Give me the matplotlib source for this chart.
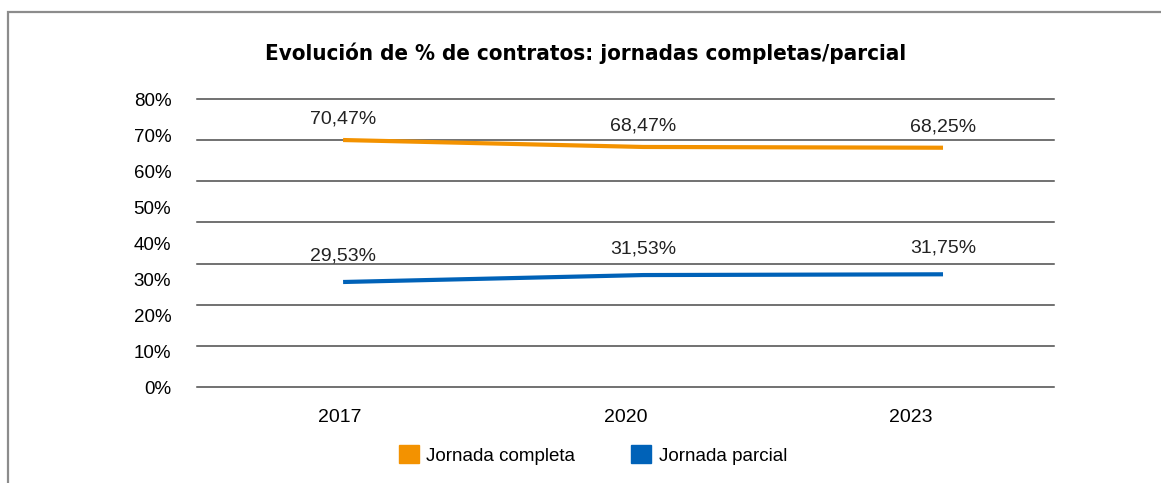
import numpy as np
import matplotlib.pyplot as plt
from matplotlib.patches import Patch, Rectangle

years = ["2017", "2020", "2023"]
completa = [70.47, 68.47, 68.25]
parcial = [29.53, 31.53, 31.75]
completa_lbl = ["70,47%", "68,47%", "68,25%"]
parcial_lbl = ["29,53%", "31,53%", "31,75%"]
y_ticks = [0, 10, 20, 30, 40, 50, 60, 70, 80]

c_orange = "#F39200"
c_blue = "#0062B8"
plt.rcParams['font.family'] = ['Liberation Sans', 'DejaVu Sans']

fig = plt.figure(figsize=(11.61, 4.83), dpi=100)
rect = [197/1161, 1 - 387/483, (1054-197)/1161, (387-99)/483]

# axis for tick labels (category bands)
ax_lab = fig.add_axes(rect)
ax_lab.set_xlim(-0.5, 2.5)
ax_lab.set_ylim(0, 80)
ax_lab.set_xticks(range(len(years)))
ax_lab.set_xticklabels(years, fontsize=14)
ax_lab.set_yticks(y_ticks)
ax_lab.set_yticklabels([f"{v}%" for v in y_ticks], fontsize=13.5)
ax_lab.tick_params(length=0)
ax_lab.tick_params(axis='y', pad=18.5)
ax_lab.tick_params(axis='x', pad=16)
for s in ax_lab.spines.values():
    s.set_visible(False)

# data axis
ax = fig.add_axes(rect)
ax.patch.set_alpha(0)
ax.set_xlim(-0.487, 2.37)
ax.set_ylim(-0.75, 82.3)
ax.set_xticks([])
ax.set_yticks([])
for s in ax.spines.values():
    s.set_visible(False)
for lv in np.linspace(-0.75, 82.3, 8):
    ax.axhline(lv, color="#4a4a4a", lw=1.1, clip_on=False, zorder=1)

x = np.arange(len(years))
ax.plot(x, completa, color=c_orange, lw=3, solid_capstyle='butt', zorder=3)
ax.plot(x, parcial, color=c_blue, lw=3, solid_capstyle='butt', zorder=3)
for xi, v, t in zip(x, completa, completa_lbl):
    ax.annotate(t, (xi, v), xytext=(0, 15), textcoords='offset points',
                ha='center', va='center', fontsize=14, color="#222222")
for xi, v, t in zip(x, parcial, parcial_lbl):
    ax.annotate(t, (xi, v), xytext=(0, 19), textcoords='offset points',
                ha='center', va='center', fontsize=14, color="#222222")

fig.text(586/1161, 1 - 53/483, "Evolución de % de contratos: jornadas completas/parcial",
         ha='center', va='center', fontsize=16, fontweight='bold',
         family='DejaVu Sans', fontstretch='condensed')

handles = [Patch(color=c_orange, label="Jornada completa"),
           Patch(color=c_blue, label="Jornada parcial")]
fig.legend(handles=handles, loc='center', bbox_to_anchor=(593/1161, 1 - 455/483),
           ncol=2, frameon=False, fontsize=13.5, handlelength=1.05, handleheight=1.05,
           handletextpad=0.4, columnspacing=3.0)

fig.patches.append(Rectangle((8/1161, -0.1), 1.1, 1.1 - 12/483 + 0.0,
                             transform=fig.transFigure, fill=False,
                             edgecolor="#8c8c8c", lw=1.6))

fig.savefig("out.png", dpi=100)
